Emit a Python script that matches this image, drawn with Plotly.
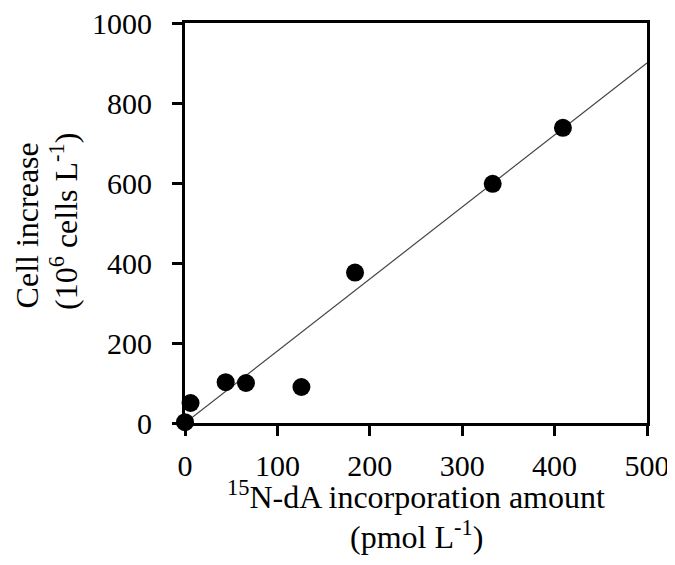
import plotly.graph_objects as go

# Data
incorporation = [0, 6, 44, 66, 126, 184, 333, 409]      # 15N-dA incorporation (pmol L-1)
cell_increase = [2, 50, 102, 100, 90, 376, 598, 738]     # Cell increase (10^6 cells L-1)
fit_x = [0, 500]
fit_slope = 1.8
fit_y = [fit_slope * v for v in fit_x]

x_ticks = [0, 100, 200, 300, 400, 500]
y_ticks = [0, 200, 400, 600, 800, 1000]

x_title_lines = ["<sup>15</sup>N-dA incorporation amount", "(pmol L<sup>-1</sup>)"]
y_title_lines = ["Cell increase", "(10<sup>6</sup> cells L<sup>-1</sup>)"]

FONT = "Liberation Serif, Times New Roman, serif"
TICK_SIZE = 30
TITLE_SIZE = 32

fig = go.Figure()
fig.add_trace(go.Scatter(
    x=fit_x, y=fit_y, mode="lines",
    line=dict(color="#444444", width=1.2),
    showlegend=False, hoverinfo="skip", cliponaxis=False,
))
fig.add_trace(go.Scatter(
    x=incorporation, y=cell_increase, mode="markers",
    marker=dict(color="black", size=18, line=dict(width=0)),
    showlegend=False, cliponaxis=False,
))

annotations = [
    dict(text=x_title_lines[0], xref="paper", yref="paper", x=0.5, y=-0.18,
         xanchor="center", yanchor="middle", showarrow=False, borderpad=0,
         font=dict(family=FONT, size=TITLE_SIZE, color="black")),
    dict(text=x_title_lines[1], xref="paper", yref="paper", x=0.5, y=-0.28,
         xanchor="center", yanchor="middle", showarrow=False, borderpad=0,
         font=dict(family=FONT, size=TITLE_SIZE, color="black")),
    dict(text=y_title_lines[0], xref="paper", yref="paper", x=-0.342, y=0.494,
         xanchor="center", yanchor="middle", showarrow=False, textangle=-90,
         borderpad=0,
         font=dict(family=FONT, size=TITLE_SIZE, color="black")),
    dict(text=y_title_lines[1], xref="paper", yref="paper", x=-0.262, y=0.505,
         xanchor="center", yanchor="middle", showarrow=False, textangle=-90,
         borderpad=0,
         font=dict(family=FONT, size=TITLE_SIZE, color="black")),
]

fig.update_layout(
    width=667, height=557,
    margin=dict(l=177, r=28, t=15, b=142, autoexpand=False),
    plot_bgcolor="white", paper_bgcolor="white",
    font=dict(family=FONT, size=TICK_SIZE, color="black"),
    annotations=annotations,
    xaxis=dict(
        range=[0, 500], tickvals=x_ticks, ticktext=[str(v) for v in x_ticks],
        showgrid=False, zeroline=False, automargin=False,
        showline=True, linecolor="black", linewidth=3, mirror=True,
        ticks="outside", ticklen=10, tickwidth=3, tickcolor="black",
        ticklabelstandoff=4, ticklabeloverflow="allow",
        tickfont=dict(family=FONT, size=TICK_SIZE, color="black"),
    ),
    yaxis=dict(
        range=[0, 1000], tickvals=y_ticks, ticktext=[str(v) for v in y_ticks],
        showgrid=False, zeroline=False, automargin=False,
        showline=True, linecolor="black", linewidth=3, mirror=True,
        ticks="outside", ticklen=10, tickwidth=3, tickcolor="black",
        ticklabelstandoff=14, ticklabeloverflow="allow",
        tickfont=dict(family=FONT, size=TICK_SIZE, color="black"),
    ),
)

fig.write_html("out.html")
